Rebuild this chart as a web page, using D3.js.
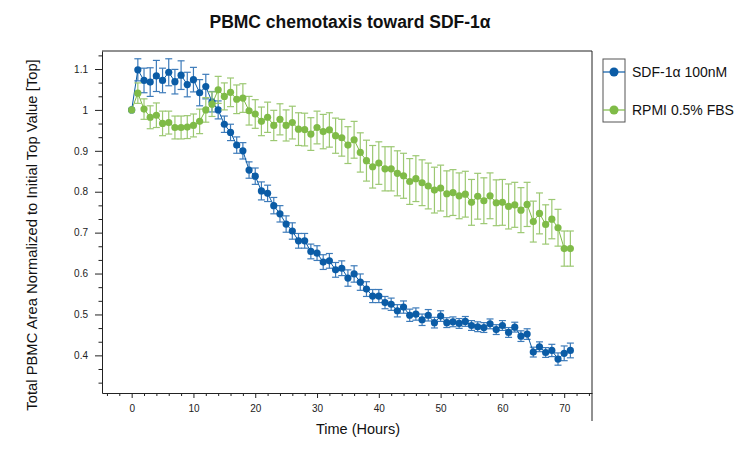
<!DOCTYPE html>
<html lang="en">
<head>
    <meta charset="UTF-8">
    <title>PBMC chemotaxis</title>
    <script src="https://d3js.org/d3.v7.min.js"></script>
    <style>
        body { margin: 0; background: #fff; }
        text { font-family: 'Liberation Sans', Arial, sans-serif; fill: #111; }
        .axis path, .axis line { stroke: #222; }
        .axis text { font-size: 10px; fill: #222; }
    </style>
</head>
<body>
<script>

    const width  = 756;
    const height = 456;

    const hours = [0,1,2,3,4,5,6,7,8,9,10,11,12,13,14,15,16,17,18,19,20,21,22,23,
                   24,25,26,27,28,29,30,31,32,33,34,35,36,37,38,39,40,41,42,43,44,45,46,47,
                   48,49,50,51,52,53,54,55,56,57,58,59,60,61,62,63,64,65,66,67,68,69,70,71];

    const sdfMean = [1.000,1.098,1.072,1.068,1.083,1.072,1.092,1.069,1.085,1.062,1.074,1.042,
                     1.057,1.020,1.000,0.965,0.945,0.914,0.900,0.853,0.838,0.802,0.796,0.766,
                     0.746,0.721,0.704,0.680,0.680,0.654,0.650,0.628,0.631,0.609,0.613,0.589,
                     0.599,0.579,0.562,0.545,0.545,0.529,0.525,0.509,0.518,0.498,0.501,0.487,
                     0.498,0.480,0.496,0.480,0.482,0.478,0.483,0.473,0.470,0.468,0.477,0.463,
                     0.473,0.456,0.469,0.447,0.452,0.408,0.421,0.407,0.412,0.391,0.405,0.412];
    const sdfErr  = [0,.027,.030,.035,.038,.030,.033,.030,.035,.030,.030,.032,
                     .030,.025,.022,.020,.020,.020,.020,.020,.020,.022,.020,.020,
                     .020,.020,.020,.018,.018,.018,.018,.018,.018,.018,.018,.020,
                     .020,.020,.018,.016,.016,.015,.015,.015,.015,.015,.015,.014,
                     .014,.013,.013,.012,.012,.012,.012,.012,.012,.012,.012,.012,
                     .012,.012,.012,.013,.013,.012,.012,.012,.015,.015,.018,.018];

    const rpmiMean = [1.000,1.041,1.002,0.982,0.987,0.967,0.969,0.957,0.957,0.958,0.962,0.972,
                      1.000,1.014,1.049,1.033,1.043,1.026,1.029,0.998,0.990,0.972,0.982,0.962,
                      0.977,0.962,0.969,0.953,0.952,0.941,0.957,0.947,0.951,0.937,0.932,0.914,
                      0.927,0.896,0.876,0.861,0.870,0.856,0.856,0.845,0.839,0.825,0.832,0.822,
                      0.814,0.804,0.809,0.795,0.798,0.790,0.794,0.774,0.789,0.778,0.790,0.773,
                      0.774,0.764,0.768,0.755,0.769,0.727,0.747,0.720,0.733,0.712,0.661,0.661];
    const rpmiErr  = [0,.025,.025,.028,.030,.030,.028,.028,.028,.028,.028,.030,
                      .030,.030,.033,.033,.035,.035,.035,.035,.035,.035,.037,.037,
                      .038,.038,.040,.040,.040,.040,.040,.042,.042,.043,.045,.045,
                      .045,.048,.050,.052,.052,.054,.054,.055,.055,.056,.056,.056,
                      .056,.056,.056,.056,.056,.056,.056,.056,.056,.056,.056,.056,
                      .056,.055,.055,.055,.054,.050,.050,.048,.048,.045,.043,.043];

    const xMajor = [0,10,20,30,40,50,60,70];
    const xMinor = [-4,-2,2,4,6,8,12,14,16,18,22,24,26,28,32,34,36,38,42,44,46,48,52,54,56,58,62,64,66,68,72,74];
    const yMajor = [0.4,0.5,0.6,0.7,0.8,0.9,1,1.1];
    const yMinor = [0.3333,0.3667,0.4333,0.4667,0.5333,0.5667,0.6333,0.6667,0.7333,0.7667,
                    0.8333,0.8667,0.9333,0.9667,1.0333,1.0667,1.1333];

    const seriesNames = ['SDF-1\u03b1 100nM', 'RPMI 0.5% FBS'];
    const colors      = ['#0b5ca6', '#7fbb47'];
    const barColors   = ['#3d7bba', '#9cc872'];

    const plotLeft = 102, plotRight = 592, plotTop = 51, plotBottom = 393;

    const x = d3.scaleLinear().domain([-4.8, 74.5]).range([plotLeft, plotRight]);
    const y = d3.scaleLinear().domain([0.308, 1.144]).range([plotBottom, plotTop]);

    const svg = d3.select("body")
            .append("svg")
            .attr("width", width)
            .attr("height", height);

    // frame lines (top + right, right one runs down below the axis)
    svg.append("line").attr("x1", plotLeft).attr("x2", plotRight).attr("y1", plotTop).attr("y2", plotTop)
            .attr("stroke", "#222");
    svg.append("line").attr("x1", plotRight).attr("x2", plotRight).attr("y1", plotTop).attr("y2", 421)
            .attr("stroke", "#222");

    // axes
    svg.append("g").attr("class", "axis")
            .attr("transform", "translate(0," + plotBottom + ")")
            .call(d3.axisBottom(x).tickValues(xMinor).tickSize(3).tickFormat(""))
            .call(g => g.select(".domain").remove());
    svg.append("g").attr("class", "axis")
            .attr("transform", "translate(0," + plotBottom + ")")
            .call(d3.axisBottom(x).tickValues(xMajor).tickSize(5).tickPadding(7).tickSizeOuter(0));

    svg.append("g").attr("class", "axis")
            .attr("transform", "translate(" + plotLeft + ",0)")
            .call(d3.axisLeft(y).tickValues(yMinor).tickSize(3.5).tickFormat(""))
            .call(g => g.select(".domain").remove());
    svg.append("g").attr("class", "axis")
            .attr("transform", "translate(" + plotLeft + ",0)")
            .call(d3.axisLeft(y).tickValues(yMajor).tickSize(7).tickPadding(7).tickSizeOuter(0)
                    .tickFormat(d3.format("")));

    const series = [
        {name: seriesNames[0], mean: sdfMean, err: sdfErr},
        {name: seriesNames[1], mean: rpmiMean, err: rpmiErr}
    ];

    const line = d3.line()
            .x((d, i) => x(hours[i]))
            .y(d => y(d));

    series.forEach((s, k) => {
        const g = svg.append("g");
        const pts = s.mean.map((m, i) => ({t: hours[i], m: m, e: s.err[i]}));

        const bars = g.selectAll(".bar")
                .data(pts.filter(d => d.e > 0))
                .enter()
                .append("g")
                .attr("stroke", barColors[k])
                .attr("stroke-width", 1.2);
        bars.append("line")
                .attr("x1", d => x(d.t)).attr("x2", d => x(d.t))
                .attr("y1", d => y(d.m - d.e)).attr("y2", d => y(d.m + d.e));
        bars.append("line")
                .attr("x1", d => x(d.t) - 3.5).attr("x2", d => x(d.t) + 3.5)
                .attr("y1", d => y(d.m + d.e)).attr("y2", d => y(d.m + d.e));
        bars.append("line")
                .attr("x1", d => x(d.t) - 3.5).attr("x2", d => x(d.t) + 3.5)
                .attr("y1", d => y(d.m - d.e)).attr("y2", d => y(d.m - d.e));

        g.append("path")
                .attr("d", line(s.mean))
                .attr("fill", "none")
                .attr("stroke", colors[k])
                .attr("stroke-width", 1);

        g.selectAll("circle")
                .data(pts)
                .enter()
                .append("circle")
                .attr("cx", d => x(d.t))
                .attr("cy", d => y(d.m))
                .attr("r", 3.6)
                .attr("fill", colors[k]);
    });

    // legend
    const lg = svg.append("g");
    lg.append("rect")
            .attr("x", 603).attr("y", 59).attr("width", 22).attr("height", 63)
            .attr("fill", "none").attr("stroke", "#555");
    seriesNames.forEach((n, i) => {
        const cy = 72 + i * 38;
        lg.append("line").attr("x1", 603).attr("x2", 625).attr("y1", cy).attr("y2", cy)
                .attr("stroke", colors[i]).attr("stroke-width", 1.2);
        lg.append("circle").attr("cx", 614).attr("cy", cy).attr("r", 4.5).attr("fill", colors[i]);
        lg.append("text").text(n)
                .attr("x", 632).attr("y", cy + 5)
                .style("font-size", "14px");
    });

    // titles
    svg.append("text")
            .text("PBMC chemotaxis toward SDF-1\u03b1")
            .attr("x", 350).attr("y", 28)
            .attr("text-anchor", "middle")
            .style("font-size", "17.5px")
            .style("font-weight", "bold");

    svg.append("text")
            .text("Time (Hours)")
            .attr("x", 358).attr("y", 434)
            .attr("text-anchor", "middle")
            .style("font-size", "14.5px");

    svg.append("text")
            .text("Total PBMC Area Normalized to Initial Top Value [Top]")
            .attr("transform", "translate(37,235) rotate(-90)")
            .attr("text-anchor", "middle")
            .style("font-size", "14.8px");

</script>
</body>
</html>
